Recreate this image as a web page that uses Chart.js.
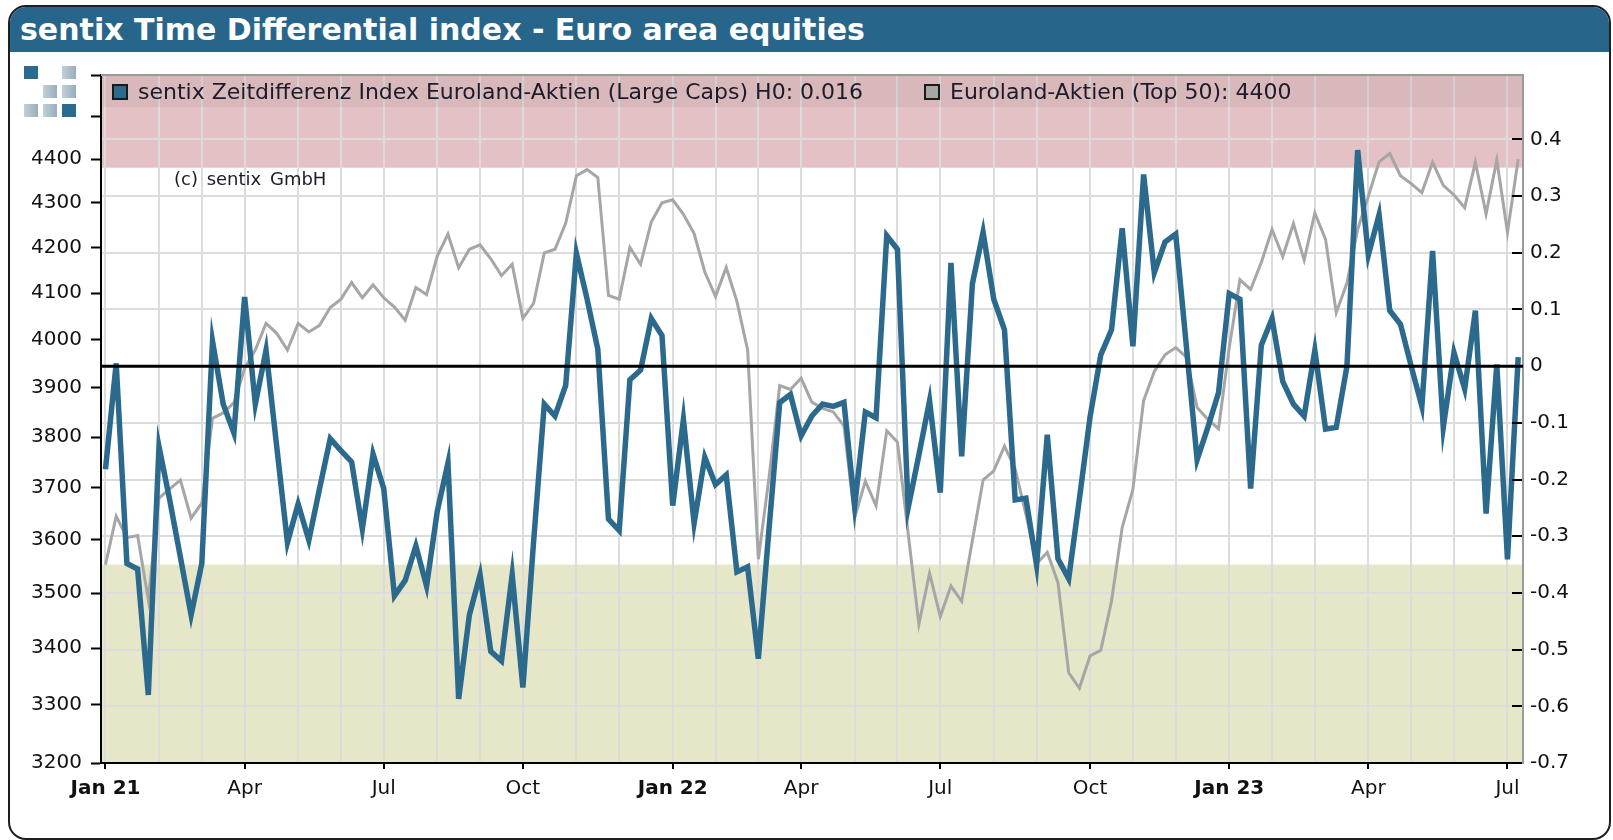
<!DOCTYPE html>
<html lang="de">
<head>
<meta charset="UTF-8">
<title>sentix Time Differential index - Euro area equities</title>
<script src="https://cdn.jsdelivr.net/npm/chart.js"></script>
<style>
  body { margin: 0; background: #fff; font-family: "DejaVu Sans", Arial, sans-serif; }
  .wrap { position: relative; width: 1613px; height: 840px; overflow: hidden; }
  #chart { position: absolute; left: 0; top: 0; }
  .frame {
    position: absolute; left: 8px; top: 5px; width: 1603px; height: 835px;
    border: 2px solid #1e1e1e; border-radius: 18px; box-sizing: border-box; overflow: hidden;
    pointer-events: none;
  }
  .titlebar {
    position: absolute; left: 0; top: 0; right: 0; height: 45px;
    background: #28658a; color: #fff;
    font: bold 30px "DejaVu Sans", Arial, sans-serif; line-height: 46px; padding-left: 10px;
  }
  .logo div { position: absolute; width: 14px; height: 13px; }
  .logo .b { background: #2b6b90; }
  .logo .g { background: linear-gradient(90deg, #c2d0d7, #97aebb); }
  .legend {
    position: absolute; left: 102px; top: 76px; width: 1420px; height: 31px;
    background: rgba(120, 120, 120, 0.11);
    font: 22px "DejaVu Sans", Arial, sans-serif; color: #1d1b2a; line-height: 31px; white-space: nowrap;
  }
  .legend span.box { position: absolute; top: 8px; width: 12px; height: 12px; border: 2px solid #1a1a1a; }
  .legend span.txt { position: absolute; top: 0; }
  .copy { position: absolute; left: 174px; top: 168px; font: 18px "DejaVu Sans", Arial, sans-serif; color: #1d1b2a; word-spacing: 3px; }
</style>
</head>
<body>
<div class="wrap">
  <canvas id="chart" width="1613" height="840"></canvas>
  <div class="frame">
    <div class="titlebar">sentix Time Differential index - Euro area equities</div>
  </div>
  <div class="logo">
    <div class="b" style="left:24px;top:66px"></div>
    <div class="g" style="left:62px;top:66px"></div>
    <div class="g" style="left:43px;top:85px"></div>
    <div class="g" style="left:62px;top:85px"></div>
    <div class="g" style="left:24px;top:104px"></div>
    <div class="g" style="left:43px;top:104px"></div>
    <div class="b" style="left:62px;top:104px"></div>
  </div>
  <div class="legend">
    <span class="box" style="left:10px;background:#2b6a8c"></span>
    <span class="txt" style="left:36px">sentix Zeitdifferenz Index Euroland-Aktien (Large Caps) H0: 0.016</span>
    <span class="box" style="left:822px;background:#a6a6a6"></span>
    <span class="txt" style="left:848px">Euroland-Aktien (Top 50): 4400</span>
  </div>
  <div class="copy">(c) sentix GmbH</div>
</div>

<script>
// weekly readings (Fridays), first one on 1 Jan 2021
const firstWeek = Date.UTC(2021, 0, 1);

// sentix time differential index, Euro area large caps (right axis)
const zeitdifferenz = [
  -0.182, 0.005, -0.348, -0.358, -0.580, -0.142, -0.236, -0.337, -0.439, -0.348,
  0.044, -0.067, -0.118, 0.122, -0.067, 0.028, -0.142, -0.311, -0.243, -0.307,
  -0.216, -0.128, -0.149, -0.169, -0.287, -0.155, -0.216, -0.405, -0.378, -0.317,
  -0.388, -0.256, -0.171, -0.587, -0.439, -0.368, -0.503, -0.520, -0.368, -0.567,
  -0.310, -0.067, -0.088, -0.034, 0.199, 0.118, 0.030, -0.270, -0.290, -0.024,
  -0.007, 0.084, 0.054, -0.246, -0.094, -0.277, -0.161, -0.209, -0.192, -0.363,
  -0.354, -0.516, -0.287, -0.064, -0.050, -0.123, -0.088, -0.067, -0.071, -0.064,
  -0.246, -0.081, -0.091, 0.230, 0.206, -0.250, -0.157, -0.061, -0.223, 0.182,
  -0.159, 0.145, 0.236, 0.118, 0.064, -0.236, -0.233, -0.351, -0.121, -0.340,
  -0.375, -0.234, -0.089, 0.020, 0.064, 0.243, 0.035, 0.338, 0.165, 0.219,
  0.233, 0.034, -0.165, -0.108, -0.047, 0.128, 0.118, -0.216, 0.037, 0.084,
  -0.027, -0.067, -0.088, 0.028, -0.111, -0.108, 0.000, 0.381, 0.196, 0.267,
  0.098, 0.074, 0.000, -0.071, 0.203, -0.108, 0.024, -0.040, 0.098, -0.260,
  0.003, -0.341, 0.016
];

// Euro Stoxx 50 level (left axis, log)
const euroStoxx = [
  3553, 3645, 3604, 3608, 3488, 3680, 3698, 3715, 3641, 3670,
  3838, 3849, 3870, 3940, 3979, 4035, 4014, 3979, 4035, 4017,
  4031, 4069, 4087, 4123, 4090, 4118, 4090, 4070, 4042, 4112,
  4097, 4181, 4230, 4155, 4196, 4206, 4175, 4138, 4163, 4046,
  4078, 4188, 4196, 4254, 4362, 4376, 4358, 4095, 4087, 4200,
  4163, 4257, 4300, 4307, 4274, 4231, 4146, 4093, 4156, 4082,
  3979, 3563, 3720, 3905, 3897, 3920, 3871, 3858, 3851, 3823,
  3642, 3713, 3665, 3813, 3790, 3612, 3443, 3537, 3457, 3513,
  3485, 3598, 3715, 3733, 3782, 3737, 3649, 3555, 3576, 3519,
  3356, 3329, 3386, 3396, 3485, 3623, 3697, 3874, 3934, 3969,
  3984, 3964, 3860, 3836, 3817, 3984, 4129, 4108, 4167, 4240,
  4180, 4253, 4172, 4277, 4218, 4058, 4122, 4240, 4315, 4394,
  4413, 4362, 4344, 4323, 4393, 4340, 4318, 4289, 4393, 4275,
  4398, 4234, 4400
];

const leftTicks = [3200, 3300, 3400, 3500, 3600, 3700, 3800, 3900, 4000, 4100, 4200, 4300, 4400, 4500, 4600];
const rightTicks = [-0.7, -0.6, -0.5, -0.4, -0.3, -0.2, -0.1, 0, 0.1, 0.2, 0.3, 0.4];
const monthNames = ['Jan', 'Feb', 'Mar', 'Apr', 'May', 'Jun', 'Jul', 'Aug', 'Sep', 'Oct', 'Nov', 'Dec'];
const upperBand = 0.35, lowerBand = -0.35;

const weekDates = zeitdifferenz.map((_, i) => new Date(firstWeek + i * 7 * 86400000));
// first reading of every month gets a grid line
const monthStarts = [];
weekDates.forEach((d, i) => {
  if (i === 0 || d.getUTCMonth() !== weekDates[i - 1].getUTCMonth()) monthStarts.push(i);
});
const isQuarter = i => weekDates[i] && weekDates[i].getUTCMonth() % 3 === 0;
const isJan = i => weekDates[i] && weekDates[i].getUTCMonth() === 0;

const FONT = '"DejaVu Sans", Arial, sans-serif';

const backdrop = {
  id: 'backdrop',
  beforeDraw(chart) {
    const { ctx, chartArea: a } = chart;
    const yR = chart.scales.yR;
    ctx.save();
    const yUp = yR.getPixelForValue(upperBand);
    const yLo = yR.getPixelForValue(lowerBand);
    ctx.fillStyle = '#e4c1c4';
    ctx.fillRect(a.left, a.top, a.right - a.left, yUp - a.top);
    ctx.fillStyle = '#e6e6c9';
    ctx.fillRect(a.left, yLo, a.right - a.left, a.bottom - yLo);
    ctx.restore();
  },
  afterDatasetsDraw(chart) {
    const { ctx, chartArea: a } = chart;
    const yR = chart.scales.yR;
    ctx.save();
    // zero line
    const y0 = yR.getPixelForValue(0);
    ctx.strokeStyle = '#000';
    ctx.lineWidth = 3;
    ctx.beginPath();
    ctx.moveTo(a.left, y0);
    ctx.lineTo(a.right, y0);
    ctx.stroke();
    // top border
    ctx.strokeStyle = '#9a9a9a';
    ctx.lineWidth = 2;
    ctx.beginPath();
    ctx.moveTo(a.left, a.top);
    ctx.lineTo(a.right, a.top);
    ctx.stroke();
    // inner tick marks of the right axis
    ctx.strokeStyle = '#000';
    ctx.lineWidth = 2;
    rightTicks.forEach(v => {
      const y = Math.round(yR.getPixelForValue(v));
      ctx.beginPath();
      ctx.moveTo(a.right - 11, y);
      ctx.lineTo(a.right - 1, y);
      ctx.stroke();
    });
    ctx.restore();
  }
};

new Chart(document.getElementById('chart'), {
  type: 'line',
  data: {
    datasets: [{
      label: 'sentix Zeitdifferenz Index Euroland-Aktien (Large Caps)',
      data: zeitdifferenz.map((v, i) => ({ x: i, y: v })),
      yAxisID: 'yR',
      borderColor: '#2b6a8c',
      borderWidth: 5.5,
      pointRadius: 0,
      order: 0
    }, {
      label: 'Euroland-Aktien (Top 50)',
      data: euroStoxx.map((v, i) => ({ x: i, y: v })),
      yAxisID: 'yL',
      borderColor: '#a6a6a6',
      borderWidth: 3,
      pointRadius: 0,
      order: 1
    }]
  },
  options: {
    responsive: false,
    animation: false,
    layout: { padding: { top: 75, left: 0, right: 0, bottom: 0 } },
    plugins: { legend: { display: false }, title: { display: false }, tooltip: { enabled: false } },
    scales: {
      x: {
        type: 'linear',
        min: -0.42,
        max: 132.45,
        afterBuildTicks: s => { s.ticks = monthStarts.map(i => ({ value: i })); },
        afterFit: s => { s.height = 77; },
        ticks: {
          autoSkip: false, maxRotation: 0, minRotation: 0, padding: 8, color: '#111',
          font: c => ({ family: FONT, size: 20, weight: isJan(c.tick && c.tick.value) ? 'bold' : 'normal' }),
          callback: v => {
            if (!isQuarter(v)) return '';
            const d = weekDates[v];
            const m = monthNames[d.getUTCMonth()];
            return m === 'Jan' ? m + ' ' + String(d.getUTCFullYear()).slice(2) : m;
          }
        },
        grid: {
          color: '#dcdcdc', lineWidth: 2, tickLength: 6, tickWidth: 2,
          tickColor: c => (c.tick && isQuarter(c.tick.value)) ? '#000' : 'rgba(0,0,0,0)'
        },
        border: { color: '#000', width: 2 }
      },
      yL: {
        type: 'logarithmic',
        position: 'left',
        min: 3200,
        max: 4600,
        afterBuildTicks: s => { s.ticks = leftTicks.map(v => ({ value: v })); },
        afterFit: s => { s.width = 101; },
        ticks: {
          padding: 9, color: '#111', font: { family: FONT, size: 20 },
          callback: v => v <= 4400 ? String(v) : ''
        },
        grid: { drawOnChartArea: false, tickLength: 10, tickColor: '#000', tickWidth: 2 },
        border: { color: '#000', width: 2 }
      },
      yR: {
        type: 'linear',
        position: 'right',
        min: -0.7,
        max: 0.5135,
        afterBuildTicks: s => { s.ticks = rightTicks.map(v => ({ value: v })); },
        afterFit: s => { s.width = 90; },
        ticks: {
          padding: 7, color: '#111', font: { family: FONT, size: 20 },
          callback: v => v === 0 ? '0' : v.toFixed(1)
        },
        grid: { color: '#dcdcdc', lineWidth: 2, drawTicks: false },
        border: { color: '#9a9a9a', width: 2 }
      }
    }
  },
  plugins: [backdrop]
});
</script>
</body>
</html>
